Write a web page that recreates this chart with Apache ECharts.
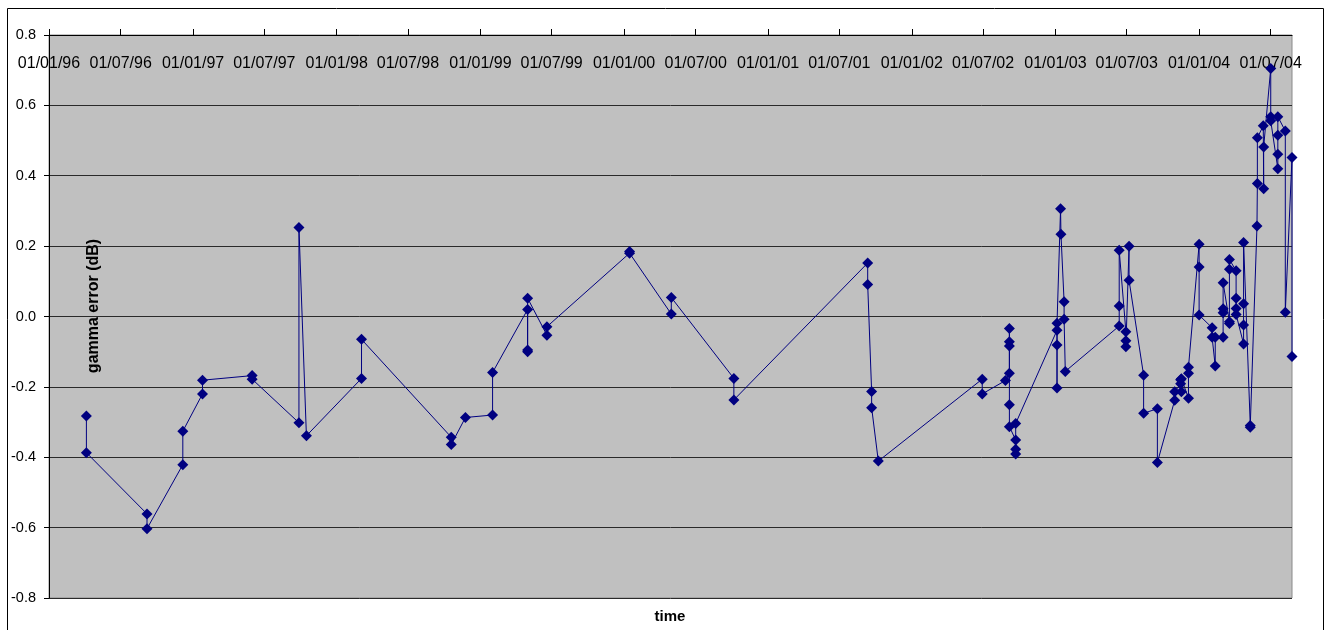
<!DOCTYPE html>
<html>
<head>
<meta charset="utf-8">
<script src="https://cdn.jsdelivr.net/npm/echarts@6/dist/echarts.min.js"></script>
<style>
html,body{margin:0;padding:0;background:#fff;}
#chart{width:1332px;height:630px;}
</style>
</head>
<body>
<div id="chart"></div>
<script>
// measurement dates (in drawing order) and gamma error values (dB)
const dates = [
  '1996-04-05','1996-04-05',
  '1996-09-06','1996-09-06',
  '1996-12-06','1996-12-06',
  '1997-01-25','1997-01-25',
  '1997-05-31','1997-05-31',
  '1997-09-27','1997-09-27',
  '1997-10-16',
  '1998-03-05','1998-03-05',
  '1998-10-19','1998-10-19',
  '1998-11-24',
  '1999-02-01','1999-02-01',
  '1999-05-01','1999-05-01','1999-05-01','1999-05-01',
  '1999-06-19','1999-06-19',
  '2000-01-15','2000-01-15',
  '2000-04-30','2000-04-30',
  '2000-10-06','2000-10-06',
  '2001-09-11','2001-09-11',
  '2001-09-21','2001-09-21',
  '2001-10-08',
  '2002-06-29','2002-06-29',
  '2002-08-27',
  '2002-09-06','2002-09-06','2002-09-06','2002-09-06','2002-09-06','2002-09-06',
  '2002-09-22','2002-09-22','2002-09-22','2002-09-22',
  '2003-01-05','2003-01-05','2003-01-05','2003-01-05',
  '2003-01-14',
  '2003-01-15',
  '2003-01-23','2003-01-23',
  '2003-01-26',
  '2003-06-12','2003-06-12','2003-06-12',
  '2003-06-29','2003-06-29','2003-06-29',
  '2003-07-07','2003-07-07',
  '2003-08-13','2003-08-13',
  '2003-09-17','2003-09-17',
  '2003-10-31','2003-10-31',
  '2003-11-15','2003-11-15',
  '2003-11-17','2003-11-17',
  '2003-12-05','2003-12-05','2003-12-05',
  '2004-01-01','2004-01-01','2004-01-01',
  '2004-02-03','2004-02-03',
  '2004-02-11','2004-02-11',
  '2004-03-02','2004-03-02','2004-03-02','2004-03-02',
  '2004-03-18','2004-03-18','2004-03-18','2004-03-18',
  '2004-04-04','2004-04-04','2004-04-04','2004-04-04',
  '2004-04-23','2004-04-23','2004-04-23','2004-04-23',
  '2004-05-10','2004-05-10',
  '2004-05-27',
  '2004-05-28','2004-05-28',
  '2004-06-12',
  '2004-06-13','2004-06-13',
  '2004-07-01','2004-07-01','2004-07-01',
  '2004-07-19','2004-07-19','2004-07-19','2004-07-19',
  '2004-08-07','2004-08-07',
  '2004-08-24','2004-08-24'
];
const gammaError = [
  -0.283,-0.387,
  -0.561,-0.603,
  -0.421,-0.326,
  -0.220,-0.181,
  -0.168,-0.178,
  -0.302,0.253,
  -0.339,
  -0.176,-0.065,
  -0.343,-0.364,
  -0.287,
  -0.280,-0.159,
  0.020,-0.095,-0.100,0.052,
  -0.053,-0.029,
  0.180,0.185,
  0.007,0.054,
  -0.176,-0.237,
  0.152,0.091,
  -0.213,-0.259,
  -0.411,
  -0.178,-0.220,
  -0.182,
  -0.161,-0.072,-0.034,-0.084,-0.251,-0.313,
  -0.351,-0.377,-0.391,-0.304,
  -0.039,-0.081,-0.203,-0.019,
  0.306,
  0.234,
  0.042,-0.008,
  -0.156,
  -0.027,0.030,0.188,
  -0.043,-0.069,-0.086,
  0.200,0.103,
  -0.167,-0.275,
  -0.262,-0.415,
  -0.238,-0.214,
  -0.191,-0.180,
  -0.214,-0.177,
  -0.232,-0.161,-0.144,
  0.205,0.141,0.004,
  -0.032,-0.059,
  -0.141,-0.059,
  -0.059,0.011,0.022,0.096,
  -0.015,-0.020,0.134,0.162,
  0.130,0.052,0.023,0.006,
  -0.078,-0.024,0.036,0.210,
  -0.310,-0.315,
  0.257,
  0.378,0.508,
  0.542,
  0.363,0.482,
  0.705,0.568,0.556,
  0.420,0.461,0.515,0.568,
  0.527,0.012,
  0.452,-0.114
];
// x-axis tick labels (dd/mm/yy, every six months)
const tickDates = [
  '1996-01-01','1996-07-01','1997-01-01','1997-07-01','1998-01-01','1998-07-01',
  '1999-01-01','1999-07-01','2000-01-01','2000-07-01','2001-01-01','2001-07-01',
  '2002-01-01','2002-07-01','2003-01-01','2003-07-01','2004-01-01','2004-07-01'
];
const axisStart = '1996-01-01';
const axisEnd = '2004-08-24';
const yTicks = { min: -0.8, max: 0.8, step: 0.2 };

function toTime(s) {
  const p = s.split('-').map(Number);
  return Date.UTC(p[0], p[1] - 1, p[2]);
}
function pad(n) { return (n < 10 ? '0' : '') + n; }
function fmt(t) {
  const d = new Date(Math.round(t));
  return pad(d.getUTCDate()) + '/' + pad(d.getUTCMonth() + 1) + '/' + pad(d.getUTCFullYear() % 100);
}

const seriesData = dates.map((d, i) => [toTime(d), gammaError[i]]);
const tickTimes = tickDates.map(toTime);
const FONT = '"Liberation Sans", Arial, sans-serif';

const chart = echarts.init(document.getElementById('chart'), null, { renderer: 'canvas' });
chart.setOption({
  animation: false,
  backgroundColor: '#ffffff',
  grid: {
    left: 49, right: 40, top: 35, bottom: 32,
    show: true, backgroundColor: '#C0C0C0', borderColor: '#8a8a8a', borderWidth: 1
  },
  xAxis: {
    type: 'value',
    position: 'top',
    scale: true,
    min: toTime(axisStart),
    max: toTime(axisEnd),
    axisLine: { show: true, onZero: false, lineStyle: { color: '#000', width: 1 } },
    axisTick: { show: true, inside: false, length: 6, customValues: tickTimes, lineStyle: { color: '#000', width: 1 } },
    axisLabel: {
      show: true, inside: true, margin: 21, customValues: tickTimes,
      formatter: (v) => fmt(v),
      color: '#000', fontSize: 16, fontFamily: FONT,
      showMinLabel: true, showMaxLabel: true, hideOverlap: false
    },
    splitLine: { show: false }
  },
  yAxis: {
    type: 'value',
    min: yTicks.min, max: yTicks.max, interval: yTicks.step,
    axisLine: { show: true, lineStyle: { color: '#000', width: 1 } },
    axisTick: { show: true, inside: false, length: 5, lineStyle: { color: '#000', width: 1 } },
    axisLabel: {
      margin: 13, color: '#000', fontSize: 14.5, fontFamily: FONT,
      formatter: (v) => v.toFixed(1)
    },
    splitLine: { show: true, lineStyle: { color: '#2a2a2a', width: 1 } }
  },
  series: [{
    type: 'line',
    data: seriesData,
    symbol: 'diamond',
    symbolSize: 11,
    showAllSymbol: true,
    lineStyle: { color: '#000080', width: 1 },
    itemStyle: { color: '#000080', borderWidth: 0 },
    emphasis: { disabled: true },
    z: 5
  }],
  graphic: [
    {
      type: 'rect', silent: true, z: 100,
      shape: { x: 7.5, y: 8.5, width: 1316, height: 640 },
      style: { fill: 'none', stroke: '#000', lineWidth: 1 }
    },
    {
      type: 'text', silent: true, z: 100,
      x: 94, y: 306, rotation: Math.PI / 2,
      style: {
        text: 'gamma error (dB)', x: 0, y: 0, align: 'center', verticalAlign: 'middle',
        font: 'bold 16px ' + FONT, fill: '#000'
      }
    },
    {
      type: 'text', silent: true, z: 100,
      x: 670, y: 617,
      style: {
        text: 'time', x: 0, y: 0, align: 'center', verticalAlign: 'middle',
        font: 'bold 15px ' + FONT, fill: '#000'
      }
    }
  ]
});
</script>
</body>
</html>
